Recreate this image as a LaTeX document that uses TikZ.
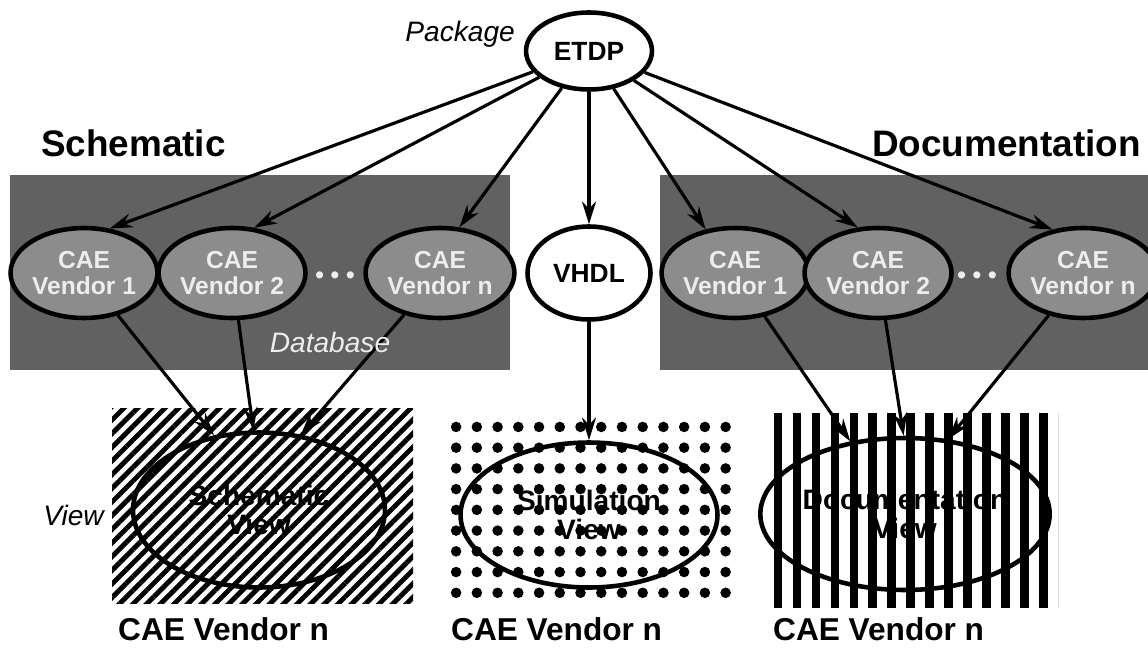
\documentclass[tikz,border=0pt]{standalone}
\usepackage{fontspec}
\setmainfont{Liberation Sans}
\usetikzlibrary{arrows.meta, positioning, patterns.meta, shapes.geometric}
\definecolor{PanelGray}{gray}{0.38}
\definecolor{VendorGray}{gray}{0.55}
\definecolor{PaleGray}{gray}{0.93}

\begin{document}
\begin{tikzpicture}[
    x=0.02cm, y=-0.02cm,
    font=\bfseries,
    link/.style={-{Stealth[length=13pt, width=8pt]}, line width=1.8pt},
    hub/.style={ellipse, draw, line width=2.6pt, fill=white, inner sep=0pt,
        font=\fontsize{15}{18}\selectfont\bfseries},
    vendor/.style={ellipse, draw, line width=2.6pt, fill=VendorGray, text=PaleGray,
        minimum width=2.5cm, minimum height=1.8cm, inner sep=0pt, align=center,
        font=\fontsize{14}{15}\selectfont\bfseries},
    etc/.style={text=PaleGray, font=\fontsize{14}{15}\selectfont\bfseries},
    view/.style={ellipse, draw, line width=2.6pt, inner sep=0pt, align=center,
        font=\fontsize{16}{17}\selectfont\bfseries},
    title/.style={font=\fontsize{21}{25}\selectfont\bfseries},
    note/.style={font=\fontsize{16}{19}\selectfont\itshape},
    caption/.style={anchor=base west, font=\fontsize{18}{21}\selectfont\bfseries},
]
\useasboundingbox (0,0) rectangle (1148,655);

% database panels
\fill[PanelGray] (10,175) rectangle (510,370);
\fill[PanelGray] (660,175) rectangle (1148,370);

% view panels
\fill[pattern={Lines[angle=45, distance=5.5pt, line width=2.8pt]}] (112,408) rectangle (413,603);
\fill[pattern={Dots[radius=3pt, distance=11.8pt]}] (445,413) rectangle (737,603);
\fill[pattern={Lines[angle=90, distance=10.8pt, line width=5pt]}] (767,413) rectangle (1058,607);

% package and vhdl
\node[hub, minimum width=2.52cm, minimum height=1.54cm] (etdp) at (589,51) {ETDP};
\node[hub, minimum width=2.46cm, minimum height=1.86cm] (vhdl) at (589,273) {VHDL};

% vendor databases
\foreach \vid/\x/\lbl in {l1/84/1, l2/232/2, ln/440/n, r1/735/1, r2/878/2, rn/1083/n}
    \node[vendor] (\vid) at (\x,273) {CAE\\Vendor \lbl};
\node[etc] (dotsl) at (335,278) {• • •};
\node[etc] (dotsr) at (977,278) {• • •};

% views
\node[view, minimum width=5.04cm, minimum height=3.1cm] (schv) at (259,510) {Schematic\\View};
\node[view, minimum width=5.14cm, minimum height=2.9cm] (simv) at (589,515) {Simulation\\View};
\node[view, minimum width=4.88cm, minimum height=3.04cm] (docv) at (905,514) {Documentation\\View};

% distribution from the package
\foreach \vid/\ang in {l1/60, l2/64, ln/67, r1/124, r2/114, rn/125}
    \draw[link] (etdp) -- (\vid.\ang);
\draw[link] (etdp) -- (vhdl);

% databases into views
\draw[link] (l1) -- (schv.121);
\draw[link] (l2) -- (schv.94);
\draw[link] (ln) -- (schv.61);
\draw[link] (vhdl) -- (simv);
\draw[link] (r1) -- (docv.127);
\draw[link] (r2) -- (docv.91);
\draw[link] (rn) -- (docv.60);

% labels
\node[note, anchor=base east] (pkg) at (521,42) {Package};
\node[note, anchor=east] (viewlbl) at (110,515) {View};
\node[note, text=PaleGray] (db) at (330,342) {Database};
\node[title, anchor=base west] (schem) at (35,157) {Schematic};
\node[title, anchor=base east] (docu) at (1147,156) {Documentation};
\foreach \x [count=\i] in {112,445,767}
    \node[caption] (cap\i) at (\x,640) {CAE Vendor n};

\end{tikzpicture}
\end{document}
